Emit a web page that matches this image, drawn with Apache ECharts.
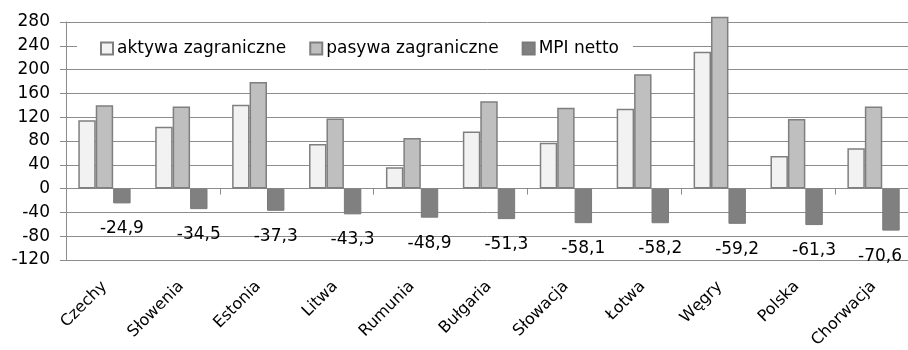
<!DOCTYPE html>
<html>
<head>
<meta charset="utf-8">
<script src="https://cdn.jsdelivr.net/npm/echarts@6/dist/echarts.min.js"></script>
<style>
html,body{margin:0;padding:0;background:#fff;}
#c{width:908px;height:350px;}
</style>
</head>
<body>
<div id="c"></div>
<script>
const categories = ['Czechy','Słowenia','Estonia','Litwa','Rumunia','Bułgaria','Słowacja','Łotwa','Węgry','Polska','Chorwacja'];
const aktywa = [115, 104, 141, 75, 36, 96, 77, 134, 230, 55, 68];
const pasywa = [140, 138, 179, 118, 85, 147, 136, 192, 289, 117, 138];
const mpiNetto = [-24.9, -34.5, -37.3, -43.3, -48.9, -51.3, -58.1, -58.2, -59.2, -61.3, -70.6];
const seriesNames = ['aktywa zagraniczne', 'pasywa zagraniczne', 'MPI netto'];

const FONT = 'DejaVu Sans';
const GRID_COLOR = '#8c8c8c';

const chart = echarts.init(document.getElementById('c'));
chart.setOption({
  animation: false,
  backgroundColor: '#ffffff',
  textStyle: { fontFamily: FONT, color: '#000' },
  grid: { left: 66, right: -4, top: 22, bottom: 90, containLabel: false, outerBoundsMode: 'none' },
  legend: {
    data: seriesNames,
    left: 77,
    top: 36,
    padding: [4, 14, 4, 23],
    itemGap: 23,
    itemWidth: 12,
    itemHeight: 12,
    backgroundColor: '#ffffff',
    icon: 'rect',
    textStyle: { fontFamily: FONT, fontSize: 17, color: '#000', padding: [0, 0, 0, -1] }
  },
  xAxis: [
    {
      type: 'category',
      data: categories,
      axisLine: { onZero: true, lineStyle: { color: GRID_COLOR, width: 1 } },
      axisTick: { show: true, length: 6, lineStyle: { color: GRID_COLOR } },
      axisLabel: { show: false },
      splitLine: { show: false }
    },
    {
      type: 'category',
      data: categories,
      position: 'bottom',
      axisLine: { show: false, onZero: false },
      axisTick: { show: false },
      axisLabel: { show: true, rotate: 45, margin: 24, fontFamily: FONT, fontSize: 16, color: '#000' },
      splitLine: { show: false }
    }
  ],
  yAxis: {
    type: 'value',
    min: -120,
    max: 280,
    interval: 40,
    axisLine: { show: true, lineStyle: { color: GRID_COLOR, width: 1 } },
    axisTick: { show: true, length: 6, lineStyle: { color: GRID_COLOR } },
    axisLabel: { fontFamily: FONT, fontSize: 17, color: '#000', margin: 16 },
    splitLine: { show: true, lineStyle: { color: GRID_COLOR, width: 1 } }
  },
  series: [
    {
      name: seriesNames[0],
      type: 'bar',
      xAxisIndex: 0,
      data: aktywa,
      clip: false,
      barGap: '0%',
      barCategoryGap: '32%',
      itemStyle: { color: '#f2f2f2', borderColor: '#7f7f7f', borderWidth: 1.5 }
    },
    {
      name: seriesNames[1],
      type: 'bar',
      xAxisIndex: 0,
      data: pasywa,
      clip: false,
      barGap: '0%',
      barCategoryGap: '32%',
      itemStyle: { color: '#bfbfbf', borderColor: '#7f7f7f', borderWidth: 1.5 }
    },
    {
      name: seriesNames[2],
      type: 'bar',
      xAxisIndex: 0,
      data: mpiNetto,
      clip: false,
      barGap: '0%',
      barCategoryGap: '32%',
      itemStyle: { color: '#808080', borderColor: '#7a7a7a', borderWidth: 1 },
      label: {
        show: true,
        position: 'bottom',
        distance: 17,
        fontFamily: FONT,
        fontSize: 17,
        color: '#000',
        formatter: p => String(p.value).replace('.', ',')
      },
      labelLayout: function (params) {
        const r = params.labelRect;
        const maxRight = chart.getWidth() - 6;
        if (r.x + r.width > maxRight) {
          return { x: maxRight - r.width / 2, align: 'center' };
        }
        return {};
      }
    }
  ]
});
</script>
</body>
</html>
